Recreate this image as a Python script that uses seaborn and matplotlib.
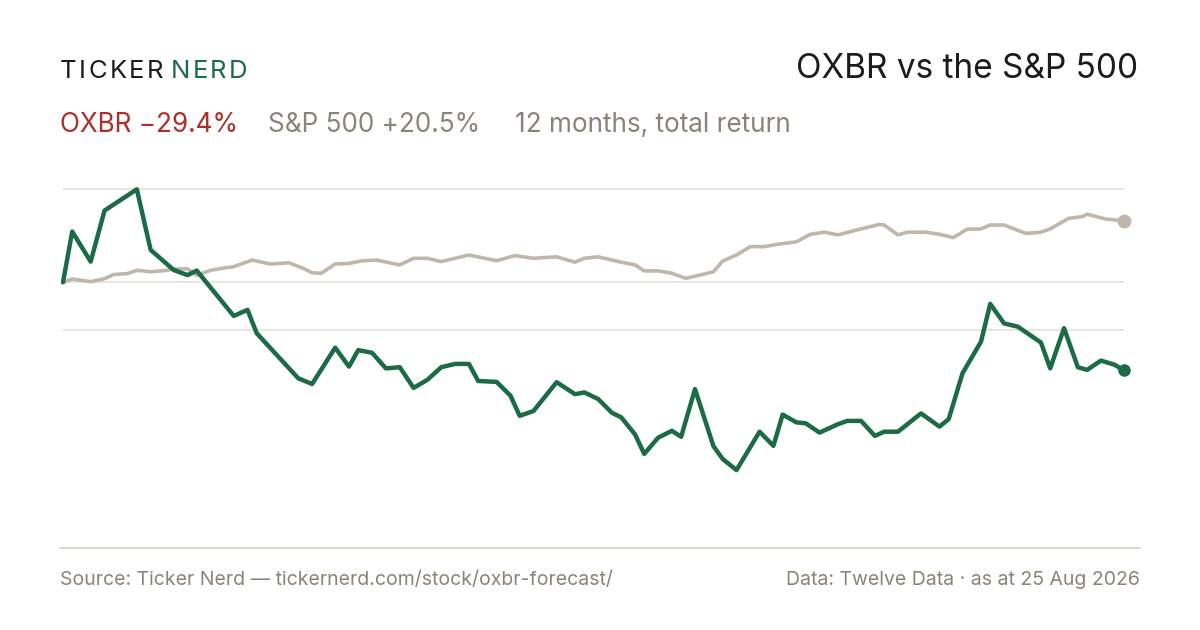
import pandas as pd
import seaborn as sns
import matplotlib.pyplot as plt
from matplotlib.lines import Line2D

# Datos: dia de negociacion (0..230) y rentabilidad acumulada en %
oxbr_day = [0, 2, 6, 9, 16, 19, 24, 27, 29, 37, 40, 42, 51, 54, 59, 62, 64, 67, 70, 73,
            76, 79, 82, 85, 88, 90, 94, 97, 99, 102, 107, 111, 113, 116, 119, 121, 124,
            126, 129, 132, 134, 137, 141, 143, 146, 151, 154, 156, 159, 161, 164, 168,
            170, 173, 176, 178, 181, 186, 190, 192, 195, 199, 201, 204, 207, 212, 214,
            217, 220, 222, 225, 228, 230]
oxbr_ret = [0, 16.9, 6.9, 23.9, 31.0, 10.8, 4.1, 2.4, 3.9, -11.2, -9.2, -17.0, -32.0,
            -33.9, -21.8, -28.1, -22.6, -23.5, -28.7, -28.3, -35.2, -32.5, -28.3, -27.2,
            -27.2, -32.9, -33.2, -37.8, -44.5, -42.9, -33.3, -37.3, -36.7, -38.9, -43.5,
            -45.0, -50.7, -57.2, -51.8, -49.5, -51.5, -35.6, -54.6, -58.9, -62.6, -49.8,
            -54.5, -44.1, -46.7, -47.0, -50.1, -47.3, -46.2, -46.2, -51.2, -49.8, -49.8,
            -43.7, -48.1, -45.6, -30.3, -19.8, -7.2, -13.7, -14.8, -20.1, -28.7, -15.3,
            -28.3, -29.2, -26.1, -27.5, -29.4]

spx_day = [0, 2, 6, 9, 11, 14, 16, 19, 22, 24, 27, 29, 32, 35, 37, 41, 45, 49, 52, 54,
           56, 59, 62, 65, 68, 73, 76, 79, 82, 88, 94, 98, 102, 107, 111, 113, 116, 121,
           124, 126, 129, 132, 135, 141, 143, 146, 149, 152, 155, 159, 162, 165, 168,
           173, 177, 178, 181, 183, 187, 190, 193, 196, 199, 201, 204, 208, 209, 212,
           214, 218, 221, 222, 226, 228, 230]
spx_ret = [0, 1.1, 0.2, 1.2, 2.6, 2.9, 4.0, 3.5, 3.9, 4.4, 4.5, 2.3, 4.0, 4.8, 5.2, 7.4,
           6.1, 6.5, 4.7, 3.2, 3.0, 6.1, 6.3, 7.2, 7.4, 5.8, 8.0, 8.0, 6.9, 9.1, 7.2, 8.9,
           8.0, 8.5, 6.7, 8.0, 8.5, 6.7, 5.8, 3.8, 3.8, 3.0, 1.3, 3.5, 7.1, 9.1, 11.9,
           11.9, 12.7, 13.5, 16.0, 16.7, 15.8, 17.8, 19.3, 19.1, 15.8, 16.7, 16.7, 16.0,
           14.9, 17.7, 17.8, 19.1, 19.1, 16.7, 16.3, 16.7, 17.8, 21.3, 21.9, 22.7, 21.1,
           20.8, 20.5]

grid_levels = [31.0, 0.0, -15.8]

GREEN = "#1b6b45"
BEIGE = "#bfb7ab"
GREY = "#8a8478"
RED = "#ab2f2a"
DARK = "#1c1c1c"

df_oxbr = pd.DataFrame({"day": oxbr_day, "ret": oxbr_ret})
df_spx = pd.DataFrame({"day": spx_day, "ret": spx_ret})

sns.set_style("white")
plt.rcParams["font.family"] = ["Inter", "DejaVu Sans"]

fig = plt.figure(figsize=(12, 6.3), dpi=100)
fig.patch.set_facecolor("white")

# area del grafico (pixeles: x 63..1124, y 180..520)
ax = fig.add_axes([63 / 1200, 1 - 520 / 630, (1124 - 63) / 1200, 340 / 630])
ax.set_xlim(0, 230)
ax.set_ylim((282.3 - 520) / 3.0, (282.3 - 180) / 3.0)

for g in grid_levels:
    ax.axhline(g, color="#e9e6e0", lw=1.4, zorder=0)

sns.lineplot(x="day", y="ret", data=df_spx, color=BEIGE, lw=2.6, ax=ax,
             zorder=2, clip_on=False)
sns.lineplot(x="day", y="ret", data=df_oxbr, color=GREEN, lw=3.2, ax=ax,
             zorder=3, clip_on=False)
ax.plot(spx_day[-1], spx_ret[-1], "o", color=BEIGE, ms=9, zorder=4, clip_on=False)
ax.plot(oxbr_day[-1], oxbr_ret[-1], "o", color=GREEN, ms=8, zorder=5, clip_on=False)

ax.set_xlabel("")
ax.set_ylabel("")
ax.set_xticks([])
ax.set_yticks([])
sns.despine(ax=ax, left=True, bottom=True)

# linea inferior
fig.add_artist(Line2D([60 / 1200, 1140 / 1200], [1 - 548 / 630] * 2,
                      color="#dcd8cf", lw=1.5))

renderer = fig.canvas.get_renderer()


def spaced_text(x, y, s, color, size, spacing):
    # texto con espaciado entre letras
    for ch in s:
        t = fig.text(x / 1200, 1 - y / 630, ch, color=color, fontsize=size,
                     va="center", ha="left")
        w = t.get_window_extent(renderer).width
        x += w + spacing
    return x


xe = spaced_text(60, 71, "TICKER", DARK, 18.5, 2.4)
spaced_text(xe + 5, 71, "NERD", GREEN, 18.5, 2.4)

fig.text(1138 / 1200, 1 - 69 / 630, "OXBR vs the S&P 500", color=DARK,
         fontsize=24, ha="right", va="center")

fig.text(60 / 1200, 1 - 125 / 630, "OXBR \u221229.4%", color=RED,
         fontsize=18.8, ha="left", va="center")
fig.text(268 / 1200, 1 - 125 / 630, "S&P 500 +20.5%", color=GREY,
         fontsize=18.8, ha="left", va="center")
fig.text(515 / 1200, 1 - 125 / 630, "12 months, total return", color=GREY,
         fontsize=18.8, ha="left", va="center")

fig.text(60 / 1200, 1 - 580 / 630,
         "Source: Ticker Nerd \u2014 tickernerd.com/stock/oxbr-forecast/",
         color=GREY, fontsize=14.0, ha="left", va="center")
fig.text(1140 / 1200, 1 - 580 / 630,
         "Data: Twelve Data \u00b7 as at 25 Aug 2026",
         color=GREY, fontsize=14.0, ha="right", va="center")

fig.savefig("out.png", dpi=100, facecolor="white")
